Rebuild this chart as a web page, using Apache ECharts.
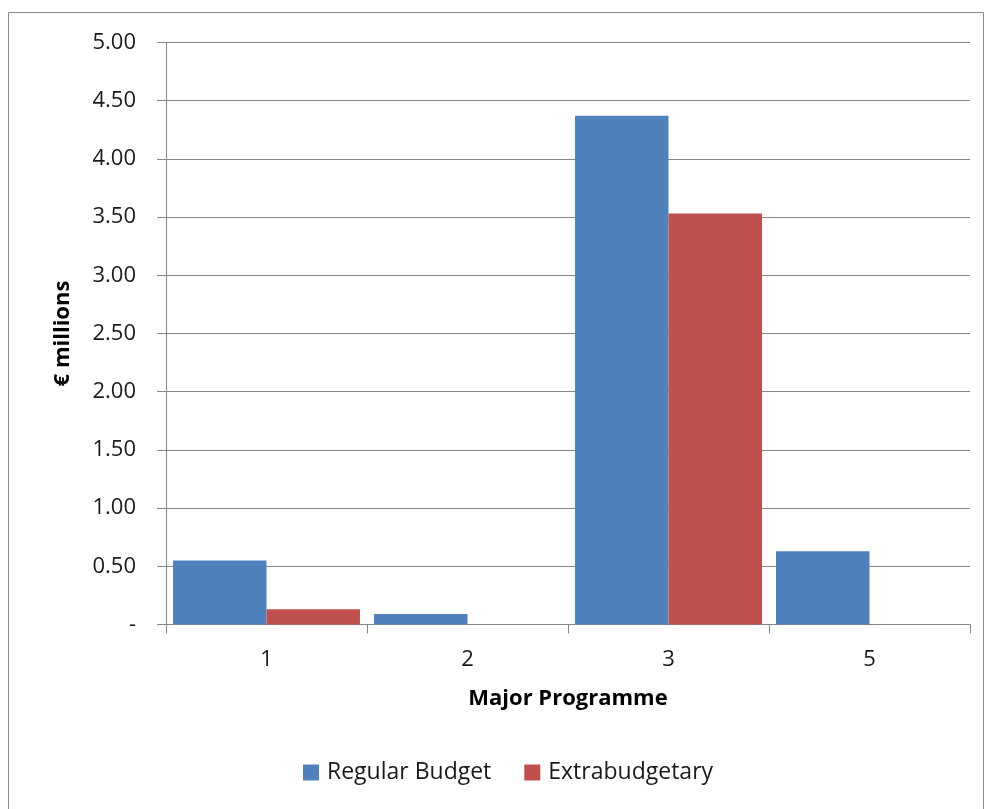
<!DOCTYPE html>
<html>
<head>
<meta charset="utf-8">
<script src="https://cdn.jsdelivr.net/npm/echarts@6/dist/echarts.min.js"></script>
<style>
  html, body { margin: 0; padding: 0; background: #fff; }
  #chart { width: 987px; height: 809px; }
</style>
</head>
<body>
<div id="chart"></div>
<script>
// Major programme spending, € millions
const categories = ['1', '2', '3', '5'];
const regularBudget = [0.55, 0.09, 4.37, 0.63];
const extrabudgetary = [0.13, 0, 3.53, 0];
const seriesNames = ['Regular Budget', 'Extrabudgetary'];

const font = "'Open Sans', 'Liberation Sans', sans-serif";
const chart = echarts.init(document.getElementById('chart'), null, { renderer: 'canvas' });

chart.setOption({
  animation: false,
  backgroundColor: '#fff',
  graphic: [{
    type: 'rect',
    shape: { x: 8.5, y: 12.5, width: 975, height: 810 },
    style: { fill: 'none', stroke: '#8c8c8c', lineWidth: 1 },
    silent: true
  }],
  grid: { left: 166, right: 17, top: 42.5, bottom: 184.5 },
  legend: {
    data: seriesNames,
    bottom: 20,
    left: 298,
    itemWidth: 16,
    itemHeight: 16,
    itemGap: 33,
    icon: 'rect',
    textStyle: { fontFamily: font, fontSize: 23, color: '#1a1a1a', padding: [0, 0, 0, 3] }
  },
  xAxis: {
    type: 'category',
    data: categories,
    name: 'Major Programme',
    nameLocation: 'middle',
    nameGap: 63,
    nameTextStyle: { fontFamily: font, fontSize: 22, fontWeight: 'bold', color: '#000' },
    axisLine: { lineStyle: { color: '#868686', width: 1 } },
    axisTick: { show: true, length: 9, lineStyle: { color: '#868686' } },
    axisLabel: { fontFamily: font, fontSize: 22, color: '#1a1a1a', margin: 24 }
  },
  yAxis: {
    type: 'value',
    min: 0,
    max: 5,
    interval: 0.5,
    name: '€ millions',
    nameLocation: 'middle',
    nameGap: 92,
    nameRotate: 90,
    nameTextStyle: { fontFamily: font, fontSize: 22, fontWeight: 'bold', color: '#000' },
    axisLine: { show: true, lineStyle: { color: '#868686', width: 1 } },
    axisTick: { show: true, length: 9, inside: false, lineStyle: { color: '#868686' } },
    splitLine: { lineStyle: { color: '#868686', width: 1 } },
    axisLabel: {
      fontFamily: font, fontSize: 22, color: '#1a1a1a', margin: 30,
      formatter: v => v === 0 ? '-' : v.toFixed(2)
    }
  },
  series: [
    {
      name: seriesNames[0],
      type: 'bar',
      data: regularBudget,
      barGap: '0%',
      barCategoryGap: '7%',
      itemStyle: { color: '#4F81BD' }
    },
    {
      name: seriesNames[1],
      type: 'bar',
      data: extrabudgetary,
      itemStyle: { color: '#C0504D' }
    }
  ]
});
</script>
</body>
</html>
